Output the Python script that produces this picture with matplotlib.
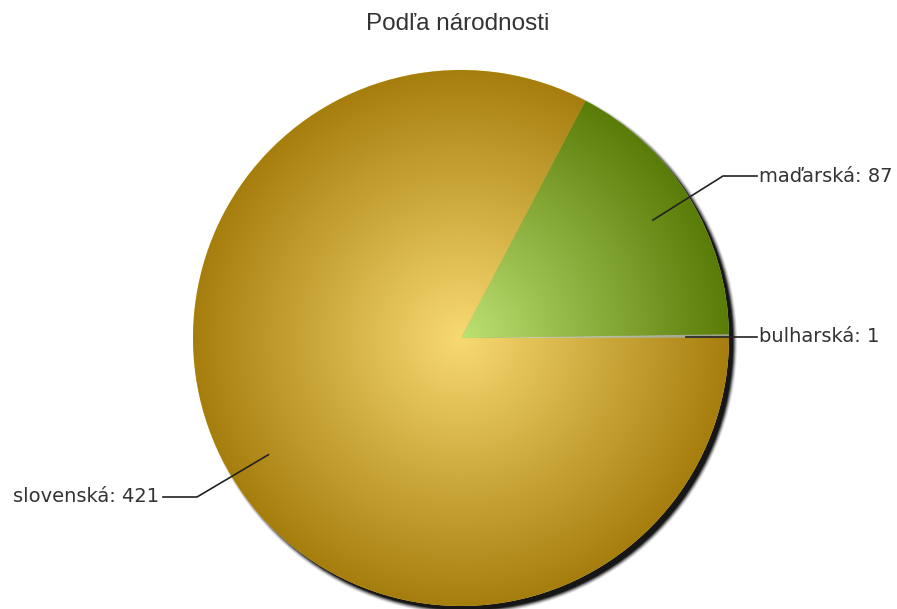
import numpy as np
import matplotlib
matplotlib.use("Agg")
import matplotlib.pyplot as plt
from matplotlib.patches import Circle

# data
labels = ["bulharská", "maďarská", "slovenská"]
values = [1, 87, 421]
inner_colors = ["#d8dcc8", "#bde274", "#f8da72"]
outer_colors = ["#9aa08a", "#5a7c08", "#a67e0e"]

title = "Podľa národnosti"

W, H = 897, 609
fig = plt.figure(figsize=(W / 100, H / 100), dpi=100)
ax = fig.add_axes([0, 0, 1, 1])
ax.set_xlim(0, W)
ax.set_ylim(0, H)
ax.axis("off")

cx, cy, R = 461, H - 338, 268
start = -values[0] / sum(values) * 360 + 0.8

# shadow
for k, a in zip(range(8, 0, -1), [0.06, 0.08, 0.11, 0.15, 0.2, 0.28, 0.4, 0.6]):
    ax.add_patch(Circle((cx + 5, cy - 5), R + k * 0.6 - 1.5, color="black", alpha=a,
                        lw=0, zorder=1))

wedges, _ = ax.pie(values, startangle=start, counterclock=True, center=(cx, cy),
                   radius=R, colors=inner_colors, wedgeprops=dict(linewidth=0))
ax.set_xlim(0, W)
ax.set_ylim(0, H)
ax.set_aspect("equal")

# radial gradient fill per slice
n = 400
xs = np.linspace(cx - R, cx + R, n)
ys = np.linspace(cy - R, cy + R, n)
X, Y = np.meshgrid(xs, ys)
t = np.clip(np.hypot(X - cx, Y - cy) / R, 0, 1)[..., None]
for w, c0, c1 in zip(wedges, inner_colors, outer_colors):
    a0 = np.array(matplotlib.colors.to_rgb(c0))
    a1 = np.array(matplotlib.colors.to_rgb(c1))
    img = a0 * (1 - t) + a1 * t
    w.set_zorder(2)
    im = ax.imshow(img, extent=(cx - R, cx + R, cy - R, cy + R), origin="lower",
                   zorder=3, interpolation="bilinear")
    im.set_clip_path(w)
ax.set_xlim(0, W)
ax.set_ylim(0, H)

# data labels with connectors
total = sum(values)
ang = start
for lab, v in zip(labels, values):
    span = v / total * 360
    mid = np.deg2rad(ang + span / 2)
    ang += span
    r0 = R * 0.84
    x0, y0 = cx + r0 * np.cos(mid), cy + r0 * np.sin(mid)
    right = np.cos(mid) >= 0
    if lab == "bulharská":
        y1 = cy + 1
        xs_l = [cx + R * 0.84, 742, 757]
        ys_l = [y1, y1, y1]
    elif right:
        y1 = H - 176
        xs_l = [x0, 723, 757]
        ys_l = [y0, y1, y1]
    else:
        y1 = H - 497
        xs_l = [x0, 197, 163]
        ys_l = [y0, y1, y1]
    ax.plot(xs_l, ys_l, color="#222222", lw=1.2, zorder=5)
    if right:
        ax.text(759, y1, f"{lab}: {v}", ha="left", va="center", fontsize=14,
                color="#333333", family="DejaVu Sans")
    else:
        ax.text(159, y1, f"{lab}: {v}", ha="right", va="center", fontsize=14,
                color="#333333", family="DejaVu Sans")

fig.text(458 / W, 1 - 24 / H, title, ha="center", va="center", fontsize=17.5,
         color="#333333", family="Liberation Sans")

fig.savefig("out.png", dpi=100)
